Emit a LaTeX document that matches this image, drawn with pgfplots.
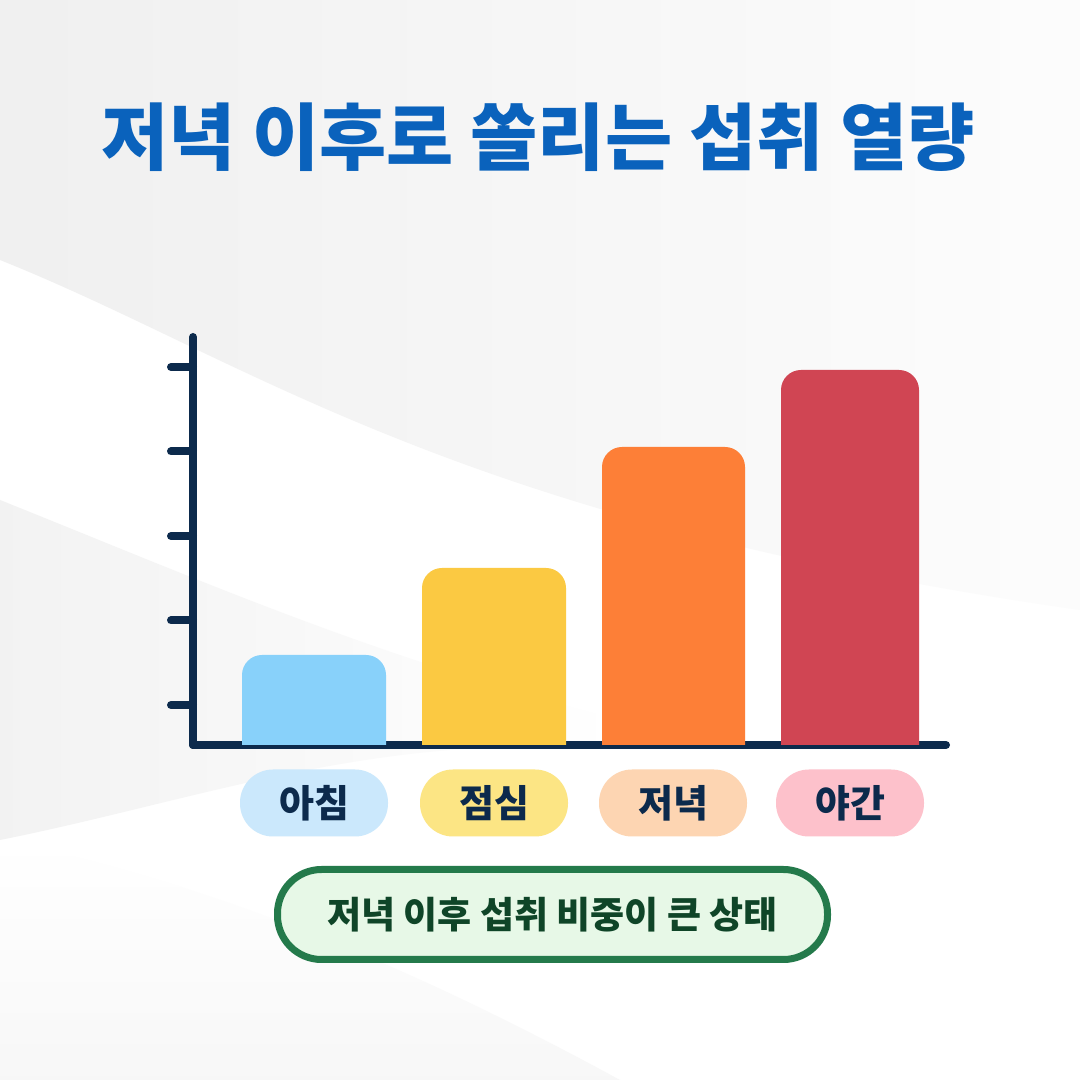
\documentclass[border=0pt]{standalone}
\usepackage{pgfplots}
\pgfplotsset{compat=1.18}
\usepackage{fontspec}
\newfontfamily\kr{Noto Sans CJK KR Black}

\definecolor{navy}{HTML}{0C2A4C}
\definecolor{titleblue}{HTML}{0A62BC}
\definecolor{cMorning}{HTML}{88D1FA}
\definecolor{cLunch}{HTML}{FBC942}
\definecolor{cDinner}{HTML}{FD7F37}
\definecolor{cNight}{HTML}{D04553}
\definecolor{pMorning}{HTML}{CBE8FC}
\definecolor{pLunch}{HTML}{FCE584}
\definecolor{pDinner}{HTML}{FDD5B2}
\definecolor{pNight}{HTML}{FDC1CB}
\definecolor{boxgreen}{HTML}{247A4B}
\definecolor{boxfill}{HTML}{E7F8E7}
\definecolor{textgreen}{HTML}{0F4528}

\begin{document}
\begin{tikzpicture}[x=1pt,y=1pt]
% background, 1080 x 1080
\fill[white] (0,0) rectangle (1080,1080);
\shade[left color=black!6, right color=black!1]
  (0,1080) -- (0,820) .. controls (250,720) and (450,560) .. (1080,470)
  -- (1080,1080) -- cycle;
\shade[left color=black!5, right color=white]
  (0,580) .. controls (200,500) and (380,420) .. (620,360)
  -- (620,330) .. controls (380,350) and (200,280) .. (0,240) -- cycle;
\shade[top color=white, bottom color=black!3]
  (0,240) .. controls (200,200) and (400,120) .. (620,0) -- (0,0) -- cycle;

% title
\node[text=titleblue, font=\kr\fontsize{73}{78}\selectfont]
  at (538,943) {저녁 이후로 쏠리는 섭취 열량};

\begin{axis}[
    at={(193pt,335pt)}, anchor=south west,
    scale only axis, width=753pt, height=408pt,
    xmin=193, xmax=946, ymin=0, ymax=408,
    axis lines=left,
    axis line style={draw=navy, line width=8pt, line cap=round, -},
    xtick=\empty,
    ytick={40,124.5,209,293.5,378},
    yticklabels={},
    tick align=outside,
    major tick length=22pt,
    ytick style={draw=navy, line width=8pt, line cap=round},
  ]
  % bars: left edge, right edge, height (bottoms hidden below the axis)
  \addplot[fill=cMorning, draw=none, rounded corners=20pt]
    coordinates {(242,-40) (242,90) (386,90) (386,-40)};
  \addplot[fill=cLunch, draw=none, rounded corners=20pt]
    coordinates {(422,-40) (422,177) (566,177) (566,-40)};
  \addplot[fill=cDinner, draw=none, rounded corners=20pt]
    coordinates {(602,-40) (602,298) (745,298) (745,-40)};
  \addplot[fill=cNight, draw=none, rounded corners=20pt]
    coordinates {(781,-40) (781,375) (919,375) (919,-40)};
\end{axis}

% category pills
\tikzset{pill/.style={rounded corners=33pt, minimum width=148pt, minimum height=67pt,
  inner sep=0pt, text=navy, font=\kr\fontsize{38}{40}\selectfont}}
\node[pill, fill=pMorning] at (314,277) {아침};
\node[pill, fill=pLunch]   at (494,277) {점심};
\node[pill, fill=pDinner]  at (673,277) {저녁};
\node[pill, fill=pNight]   at (850,277) {야간};

% summary box
\node[draw=boxgreen, line width=7pt, fill=boxfill, rounded corners=44pt,
  minimum width=550pt, minimum height=90pt, inner sep=0pt, text=textgreen,
  font=\kr\fontsize{37}{40}\selectfont]
  at (552.5,165.5) {저녁 이후 섭취 비중이 큰 상태};
\end{tikzpicture}
\end{document}
